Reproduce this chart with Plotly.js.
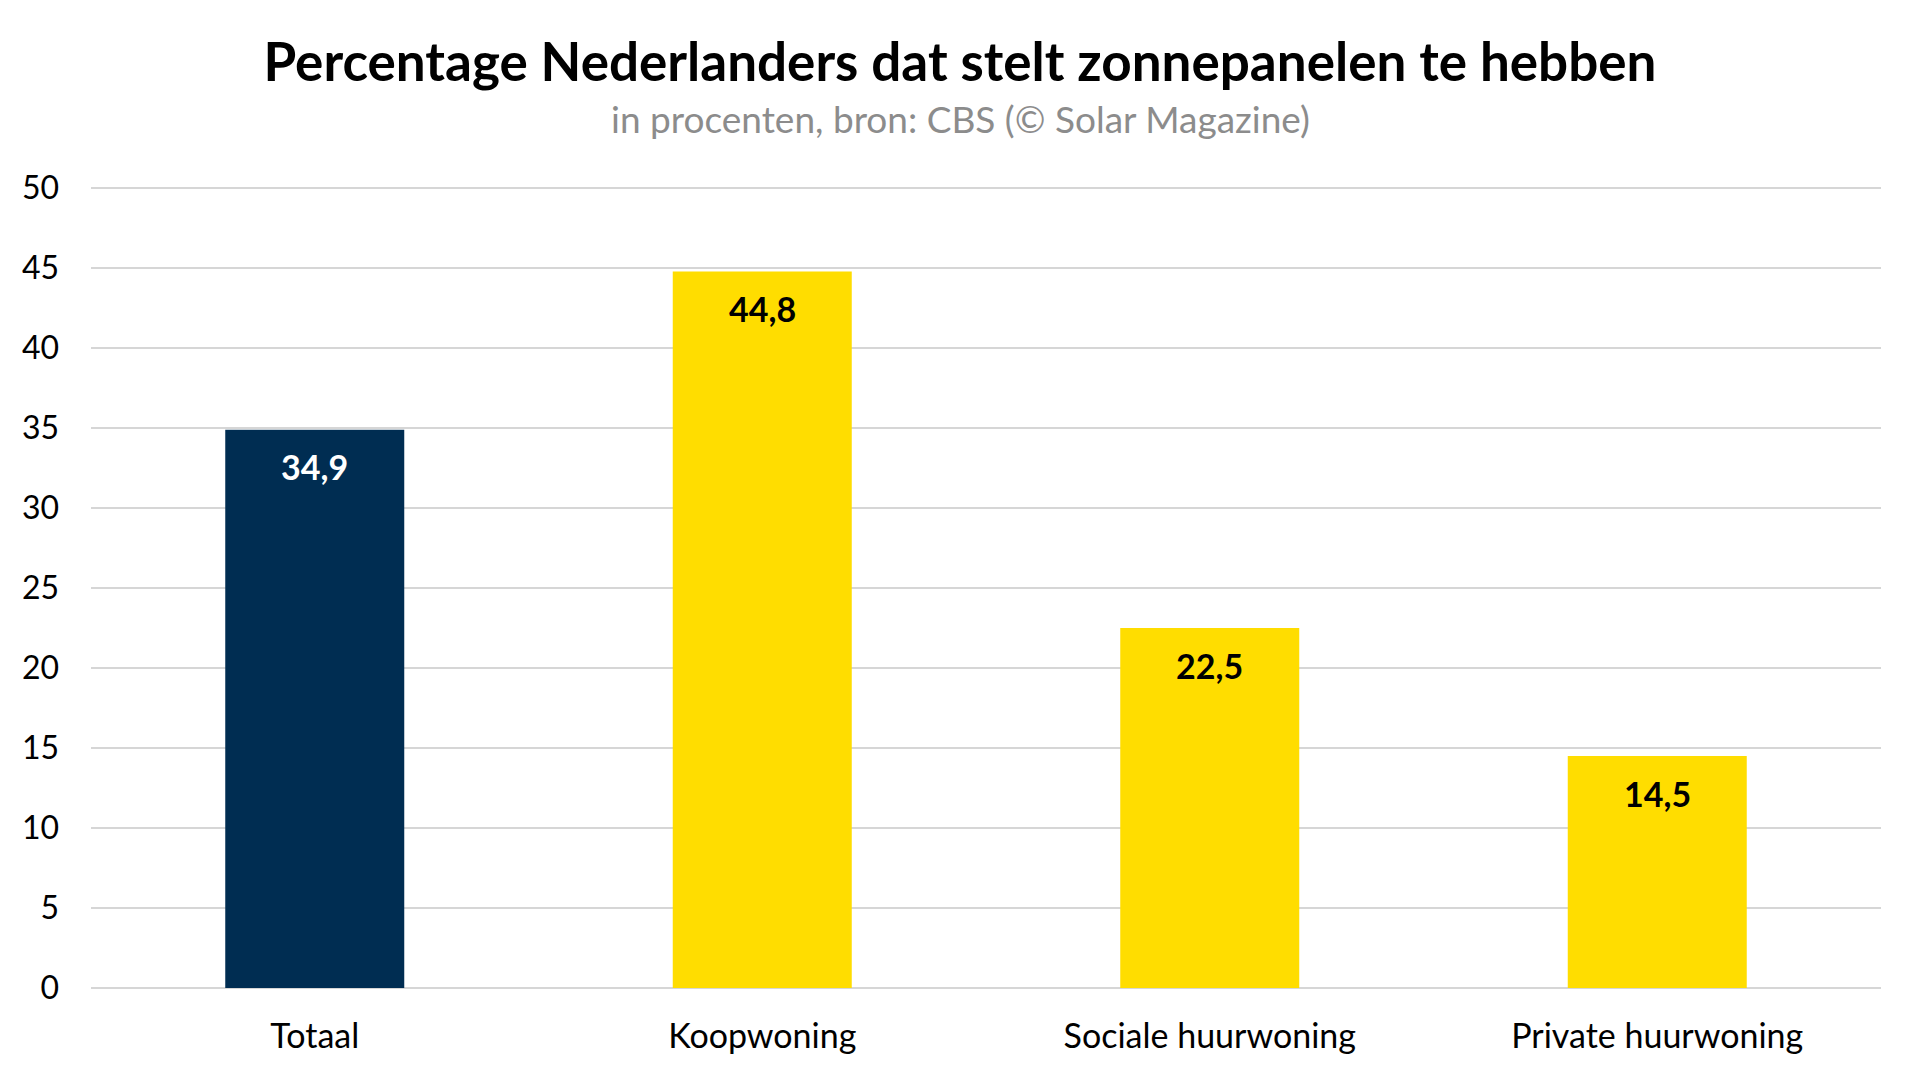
<!DOCTYPE html>
<html>
<head>
<meta charset="utf-8">
<script src="https://cdn.plot.ly/plotly-3.0.1.min.js"></script>
<style>
  html, body { margin: 0; padding: 0; background: #fff; }
  #chart { width: 1920px; height: 1080px; }
</style>
</head>
<body>
<div id="chart"></div>
<script>
let chart = document.getElementById("chart");

// data
const categories = ["Totaal", "Koopwoning", "Sociale huurwoning", "Private huurwoning"];
const percentages = [34.9, 44.8, 22.5, 14.5];
const barColors = ["#002d52", "#ffdd00", "#ffdd00", "#ffdd00"];
const labelColors = ["#ffffff", "#000000", "#000000", "#000000"];
const yTicks = [0, 5, 10, 15, 20, 25, 30, 35, 40, 45, 50];

const fontFamily = "Lato, 'Open Sans', sans-serif";

// value labels sit a bit below the top of each bar
const valueLabels = categories.map(function (cat, i) {
    return {
        x: cat,
        y: percentages[i],
        xref: "x",
        yref: "y",
        text: "<b>" + percentages[i].toFixed(1).replace(".", ",") + "</b>",
        showarrow: false,
        yanchor: "middle",
        yshift: -37,
        font: { family: fontFamily, size: 34, color: labelColors[i] },
    };
});

let layout = {
    width: 1920,
    height: 1080,
    paper_bgcolor: "#ffffff",
    plot_bgcolor: "#ffffff",
    margin: { l: 91, r: 39, t: 185, b: 92 },
    bargap: 0.6,
    showlegend: false,
    separators: ",.",
    font: { family: fontFamily, color: "#000000" },
    title: {
        text: "<b>Percentage Nederlanders dat stelt zonnepanelen te hebben</b>",
        font: { family: fontFamily, size: 53, color: "#000000" },
        x: 0.5,
        xanchor: "center",
        y: 1 - 62 / 1080,
        yref: "container",
        yanchor: "middle",
    },
    xaxis: {
        type: "category",
        showgrid: false,
        showline: false,
        ticks: "",
        ticklabelstandoff: 25,
        tickfont: { family: fontFamily, size: 34, color: "#000000" },
        fixedrange: true,
    },
    yaxis: {
        range: [0, 50.2],
        tickvals: yTicks,
        showgrid: true,
        gridcolor: "#d6d6d6",
        gridwidth: 2,
        zeroline: true,
        zerolinecolor: "#d6d6d6",
        zerolinewidth: 2,
        showline: false,
        ticks: "",
        ticklabelstandoff: 31,
        tickfont: { family: fontFamily, size: 32, color: "#000000" },
        fixedrange: true,
    },
    annotations: [
        {
            text: "in procenten, bron: CBS (© Solar Magazine)",
            xref: "paper",
            yref: "paper",
            x: 0.486,
            y: 1 + (185 - 118.5) / 803,
            xanchor: "center",
            yanchor: "middle",
            showarrow: false,
            font: { family: fontFamily, size: 37, color: "#8c8c8c" },
        },
    ].concat(valueLabels),
};

Plotly.newPlot(chart, [
    {
        x: categories,
        y: percentages,
        type: "bar",
        marker: { color: barColors },
        hoverinfo: "x+y",
    },
], layout, { displayModeBar: false, staticPlot: true });
</script>
</body>
</html>
